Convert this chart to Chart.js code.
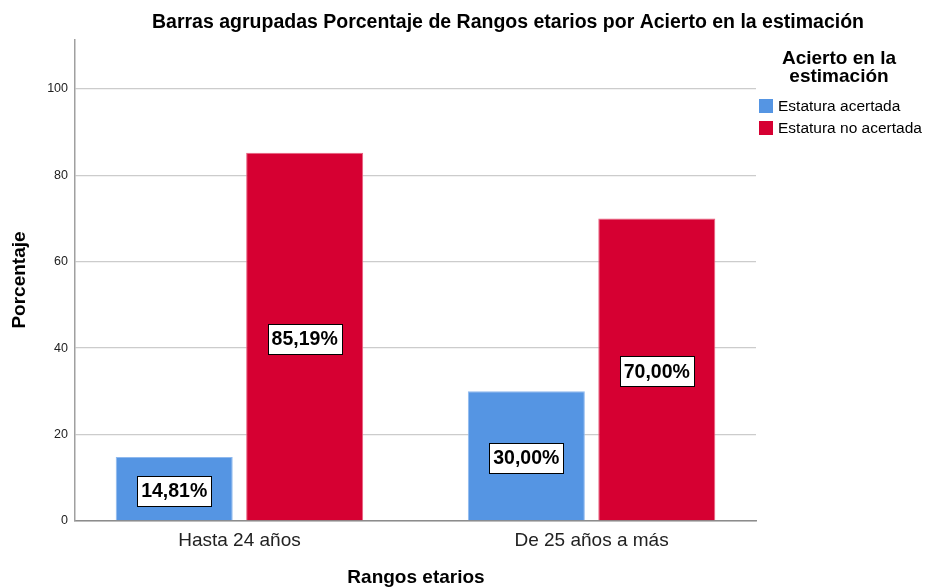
<!DOCTYPE html>
<html>
<head>
<meta charset="utf-8">
<script src="https://cdn.jsdelivr.net/npm/chart.js@4.4.0/dist/chart.umd.min.js"></script>
<style>
  html, body { margin: 0; padding: 0; background: #fff; }
  #wrap { width: 925px; height: 588px; position: relative; }
</style>
</head>
<body>
<div id="wrap"><canvas id="barChart"></canvas></div>
<script>
// --- data ---
const categories = ['Hasta 24 años', 'De 25 años a más'];
const seriesNames = ['Estatura acertada', 'Estatura no acertada'];
const acertada = [14.81, 30.00];
const noAcertada = [85.19, 70.00];
const yTicks = [0, 20, 40, 60, 80, 100];

const chartTitle = 'Barras agrupadas Porcentaje de Rangos etarios por Acierto en la estimación';
const legendTitle = ['Acierto en la', 'estimación'];
const xTitle = 'Rangos etarios';
const yTitle = 'Porcentaje';

const colors = ['#5595e3', '#d60032'];
const FONT = '"Liberation Sans", Arial, sans-serif';

function toPoints(values) {
    return values.map((v, i) => ({ x: i, y: v }));
}

// --- labels, titles and legend drawn on the canvas ---
const decorPlugin = {
    id: 'decor',
    afterDatasetsDraw(chart) {
        const ctx = chart.ctx;
        ctx.save();
        // value boxes
        ctx.font = 'bold 19.5px ' + FONT;
        ctx.textAlign = 'center';
        ctx.textBaseline = 'middle';
        chart.data.datasets.forEach((ds, di) => {
            const meta = chart.getDatasetMeta(di);
            meta.data.forEach((bar, i) => {
                const txt = ds.data[i].y.toFixed(2).replace('.', ',') + '%';
                const cx = bar.x;
                const cy = (bar.y + bar.base) / 2 + 2;
                const w = Math.round(ctx.measureText(txt).width + 8);
                const h = 30;
                const bx = Math.round(cx - w / 2) + 0.5;
                const by = Math.round(cy - h / 2) + 0.5;
                ctx.fillStyle = '#fff';
                ctx.fillRect(bx, by, w, h);
                ctx.strokeStyle = '#000';
                ctx.lineWidth = 1;
                ctx.strokeRect(bx, by, w, h);
                ctx.fillStyle = '#000';
                ctx.fillText(txt, cx, cy + 1);
            });
        });
        ctx.restore();
    },
    afterDraw(chart) {
        const ctx = chart.ctx;
        ctx.save();
        ctx.fillStyle = '#000';
        ctx.textBaseline = 'middle';
        ctx.textAlign = 'center';
        // chart title
        ctx.font = 'bold 19.5px ' + FONT;
        ctx.fillText(chartTitle, 508, 23);
        // x axis title
        ctx.font = 'bold 19px ' + FONT;
        ctx.fillText(xTitle, 416, 578);
        // y axis title
        ctx.save();
        ctx.translate(20, 280);
        ctx.rotate(-Math.PI / 2);
        ctx.fillText(yTitle, 0, 0);
        ctx.restore();
        // legend
        ctx.fillText(legendTitle[0], 839, 59);
        ctx.fillText(legendTitle[1], 839, 77);
        ctx.font = '15.5px ' + FONT;
        ctx.textAlign = 'left';
        seriesNames.forEach((name, i) => {
            const y = 106 + i * 22;
            ctx.fillStyle = colors[i];
            ctx.fillRect(759, y - 7, 14, 14);
            ctx.fillStyle = '#000';
            ctx.fillText(name, 778, y + 1);
        });
        ctx.restore();
    }
};

const ctx = document.getElementById('barChart').getContext('2d');
new Chart(ctx, {
    type: 'bar',
    data: {
        datasets: [
            { label: seriesNames[0], data: toPoints(acertada), backgroundColor: colors[0],
              borderColor: '#8fb9ee', borderWidth: 1 },
            { label: seriesNames[1], data: toPoints(noAcertada), backgroundColor: colors[1],
              borderColor: '#e8607f', borderWidth: 1 }
        ]
    },
    options: {
        responsive: true,
        maintainAspectRatio: false,
        animation: false,
        categoryPercentage: 0.741,
        barPercentage: 0.897,
        layout: { padding: { left: 0, top: 40, right: 169, bottom: 0 } },
        plugins: { legend: { display: false }, tooltip: { enabled: false }, title: { display: false } },
        scales: {
            x: {
                type: 'linear',
                offset: false,
                min: -0.467,
                max: 1.467,
                afterFit: s => { s.height = 67; },
                afterBuildTicks: s => { s.ticks = categories.map((c, i) => ({ value: i })); },
                grid: { display: false, drawTicks: false, offset: false },
                border: { display: true, color: '#8c8c8c', width: 1.5 },
                ticks: {
                    padding: 8,
                    color: '#222',
                    font: { family: FONT, size: 19 },
                    callback: v => categories[v]
                }
            },
            y: {
                min: 0,
                max: 111.3,
                afterFit: s => { s.width = 75; },
                afterBuildTicks: s => { s.ticks = yTicks.map(v => ({ value: v })); },
                grid: { color: '#cccccc', lineWidth: 1.3, drawTicks: false },
                border: { display: true, color: '#a0a0a0', width: 1.5 },
                ticks: {
                    padding: 7,
                    color: '#222',
                    font: { family: FONT, size: 12.5 }
                }
            }
        }
    },
    plugins: [decorPlugin]
});
</script>
</body>
</html>
